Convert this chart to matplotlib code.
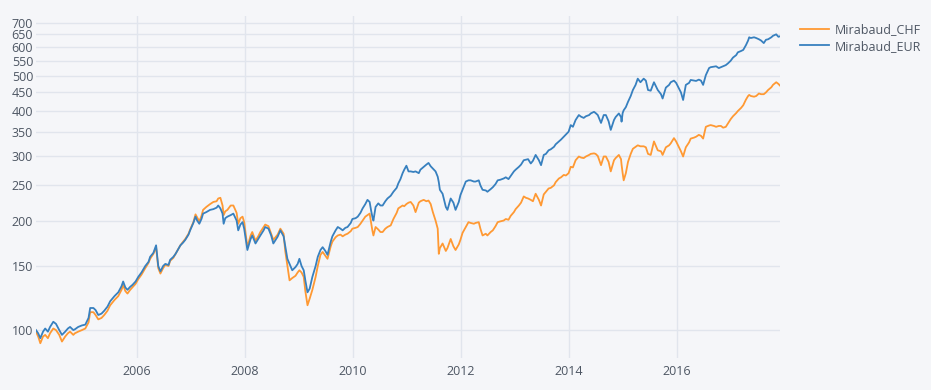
import matplotlib
matplotlib.use("Agg")
from matplotlib import pyplot as plt
from matplotlib.ticker import FixedLocator, FixedFormatter, NullLocator
import matplotlib.dates as mdates
import pandas as pd

# values (decimal year, index level)
years = [
    2004.14, 2004.18, 2004.22, 2004.27, 2004.31, 2004.36, 2004.40, 2004.46, 2004.51, 2004.57,
    2004.62, 2004.68, 2004.73, 2004.77, 2004.83, 2004.86, 2004.92, 2004.99, 2005.05, 2005.11,
    2005.14, 2005.20, 2005.24, 2005.29, 2005.35, 2005.40, 2005.46, 2005.51, 2005.59, 2005.66,
    2005.72, 2005.75, 2005.79, 2005.83, 2005.88, 2005.92, 2005.98, 2006.03, 2006.09, 2006.16,
    2006.22, 2006.25, 2006.31, 2006.36, 2006.40, 2006.44, 2006.49, 2006.53, 2006.59, 2006.62,
    2006.68, 2006.72, 2006.77, 2006.81, 2006.86, 2006.90, 2006.96, 2006.99, 2007.05, 2007.09,
    2007.12, 2007.16, 2007.20, 2007.23, 2007.29, 2007.36, 2007.42, 2007.48, 2007.51, 2007.55,
    2007.59, 2007.61, 2007.64, 2007.68, 2007.74, 2007.79, 2007.85, 2007.88, 2007.92, 2007.96,
    2007.99, 2008.05, 2008.11, 2008.14, 2008.20, 2008.25, 2008.29, 2008.35, 2008.38, 2008.44,
    2008.49, 2008.53, 2008.61, 2008.66, 2008.72, 2008.75, 2008.79, 2008.83, 2008.88, 2008.94,
    2008.98, 2009.01, 2009.05, 2009.09, 2009.12, 2009.16, 2009.20, 2009.25, 2009.31, 2009.35,
    2009.40, 2009.44, 2009.49, 2009.53, 2009.59, 2009.62, 2009.68, 2009.72, 2009.77, 2009.81,
    2009.86, 2009.90, 2009.96, 2009.99, 2010.05, 2010.09, 2010.14, 2010.18, 2010.23, 2010.27,
    2010.31, 2010.34, 2010.36, 2010.38, 2010.42, 2010.47, 2010.51, 2010.55, 2010.60, 2010.64,
    2010.70, 2010.75, 2010.81, 2010.84, 2010.88, 2010.92, 2010.95, 2010.99, 2011.03, 2011.07,
    2011.12, 2011.16, 2011.22, 2011.25, 2011.31, 2011.36, 2011.40, 2011.44, 2011.48, 2011.53,
    2011.57, 2011.59, 2011.61, 2011.66, 2011.72, 2011.75, 2011.81, 2011.86, 2011.90, 2011.96,
    2011.99, 2012.03, 2012.09, 2012.14, 2012.18, 2012.24, 2012.27, 2012.33, 2012.36, 2012.40,
    2012.46, 2012.49, 2012.55, 2012.59, 2012.64, 2012.68, 2012.73, 2012.79, 2012.83, 2012.88,
    2012.92, 2012.98, 2013.01, 2013.07, 2013.11, 2013.16, 2013.20, 2013.24, 2013.29, 2013.33,
    2013.38, 2013.44, 2013.48, 2013.53, 2013.57, 2013.62, 2013.66, 2013.72, 2013.75, 2013.81,
    2013.85, 2013.90, 2013.94, 2013.99, 2014.03, 2014.07, 2014.12, 2014.18, 2014.22, 2014.27,
    2014.31, 2014.37, 2014.40, 2014.46, 2014.49, 2014.53, 2014.59, 2014.64, 2014.68, 2014.73,
    2014.77, 2014.83, 2014.86, 2014.92, 2014.96, 2014.97, 2014.99, 2015.01, 2015.05, 2015.09,
    2015.14, 2015.18, 2015.23, 2015.27, 2015.32, 2015.38, 2015.42, 2015.46, 2015.51, 2015.57,
    2015.60, 2015.64, 2015.70, 2015.73, 2015.79, 2015.85, 2015.88, 2015.94, 2015.98, 2016.03,
    2016.07, 2016.11, 2016.16, 2016.22, 2016.25, 2016.31, 2016.35, 2016.40, 2016.44, 2016.48,
    2016.53, 2016.59, 2016.62, 2016.68, 2016.72, 2016.77, 2016.81, 2016.85, 2016.90, 2016.94,
    2016.99, 2017.03, 2017.09, 2017.12, 2017.18, 2017.22, 2017.27, 2017.31, 2017.33, 2017.36,
    2017.42, 2017.46, 2017.51, 2017.55, 2017.60, 2017.64, 2017.68, 2017.74, 2017.77, 2017.83,
    2017.87, 2017.90,
]

mirabaud_eur = [
    100, 98, 95, 99, 101, 99, 102, 105.4, 104, 100,
    97, 99, 101, 102, 100, 100.5, 102, 103, 103.5, 108,
    115, 115, 113.5, 110, 111, 113, 116, 120, 124, 127,
    132, 136, 131, 129, 131.5, 133, 136, 140, 144, 150,
    154, 159, 163, 171, 150, 145, 150, 152, 151, 156,
    159, 162, 167, 171, 174, 177, 183, 188, 197, 205,
    200, 196, 202, 209, 211, 214, 215, 217, 220, 216,
    209, 196, 203, 205, 207, 209, 200, 188, 195, 198,
    190, 166, 178, 182, 173, 178, 182, 188, 192, 190,
    182, 173, 180.6, 188, 181, 170, 157, 152, 146, 149,
    152, 157, 150, 146, 137, 127, 130, 140, 150, 159,
    166, 169, 165, 161, 175, 181, 188, 192, 190, 188,
    191, 192, 197, 202, 203, 205, 210, 216, 222, 228,
    225, 212, 205, 200, 218, 223, 220, 220, 226, 230,
    234, 240, 246, 253, 260, 270, 276, 283, 273, 273,
    272, 273, 270, 276, 281, 285, 288, 282, 278, 273,
    264, 255, 243, 237, 218, 214, 230, 224, 214, 225,
    235, 243, 256, 258, 258, 256, 256, 258, 250, 243,
    242, 240, 244, 247, 252, 258, 259, 261, 263, 260,
    265, 273, 276, 281, 285, 293, 294, 295, 287, 292,
    303, 293, 284, 303, 305, 312, 314, 319, 324, 330,
    334, 340, 345, 351, 366, 362, 378, 390, 386, 383,
    387, 390, 394, 398, 395, 390, 371, 390, 390, 375,
    355, 378, 385, 394, 385, 374, 395, 402, 410, 424,
    440, 457, 472, 491, 480, 491, 485, 457, 455, 480,
    470, 457, 445, 433, 464, 472, 480, 485, 478, 462,
    450, 429, 472, 478, 487, 485, 484, 488, 485, 472,
    502, 525, 528, 530, 531, 525, 528, 531, 535, 541,
    550, 561, 570, 580, 585, 589, 607, 625, 638, 635,
    638, 635, 630, 625, 615, 628, 630, 638, 644, 650,
    640, 642,
]

mirabaud_chf = [
    99, 96, 92, 96, 97, 95, 98, 101, 100, 97,
    93, 96, 98, 99, 97, 98, 99, 100, 101, 105,
    112, 112, 110, 107, 108, 110, 113, 117, 121, 124,
    129, 133, 128, 126, 129, 131, 134, 138, 142, 148,
    153, 157, 162, 169, 148, 143, 148, 151, 150, 155,
    158, 162, 167, 171, 175, 178, 184, 189, 198, 208,
    204, 199, 206, 214, 218, 222, 225, 226, 230, 231,
    220, 207, 212, 214, 220, 220, 210, 196, 203, 205,
    198, 169, 182, 186, 176, 181, 186, 192, 195, 193,
    184, 177, 183, 190, 184, 165, 150, 137, 139, 141,
    144, 146, 144, 140, 128, 117, 122, 129, 140, 150,
    161, 164, 160, 157, 170, 175, 180, 182, 183, 181,
    183, 184, 187, 190, 191, 192, 196, 200, 205, 207,
    209, 196, 188, 182, 192, 189, 186, 186, 190, 192,
    194, 202, 210, 216, 218, 220, 219, 222, 224, 225,
    220, 211, 224, 226, 228, 226, 227, 222, 211, 200,
    190, 162, 168, 173, 165, 168, 178, 170, 166, 172,
    177, 185, 192, 198, 197, 196, 197, 198, 190, 182,
    184, 182, 186, 188, 193, 198, 199, 200, 202, 201,
    206, 211, 215, 220, 224, 233, 231, 230, 228, 226,
    237, 228, 220, 236, 240, 245, 246, 250, 255, 261,
    263, 267, 266, 270, 281, 280, 293, 300, 298, 297,
    300, 303, 305, 306, 305, 301, 284, 300, 300, 290,
    273, 293, 297, 303, 295, 285, 270, 258, 270, 290,
    305, 315, 319, 322, 320, 320, 318, 305, 303, 330,
    322, 312, 310, 303, 318, 322, 326, 337, 330, 319,
    310, 300, 318, 328, 336, 338, 340, 344, 342, 336,
    362, 365, 366, 364, 362, 364, 364, 360, 362, 370,
    380, 387, 395, 400, 408, 415, 430, 440, 443, 440,
    438, 440, 447, 445, 445, 450, 457, 465, 472, 480,
    475, 470,
]

y_ticks = [100, 150, 200, 250, 300, 350, 400, 450, 500, 550, 600, 650, 700]


def to_date(y):
    start = pd.Timestamp(year=int(y), month=1, day=1)
    return start + pd.Timedelta(days=(y - int(y)) * 365.25)


dates = [to_date(y) for y in years]

bg = "#F5F6F9"
grid_c = "#E1E5ED"
text_c = "#4D5663"

plt.rcParams["font.family"] = ["Open Sans", "DejaVu Sans"]

fig = plt.figure(figsize=(9.31, 3.9), dpi=100, facecolor=bg)
ax = fig.add_axes([36 / 931, 32 / 390, 744 / 931, 342 / 390])
ax.set_facecolor(bg)

ax.plot(dates, mirabaud_chf, color="#FF9933", lw=1.3, label="Mirabaud_CHF")
ax.plot(dates, mirabaud_eur, color="#3780BF", lw=1.3, label="Mirabaud_EUR")

ax.set_yscale("log")
ax.set_ylim(83.8, 730)
ax.yaxis.set_major_locator(FixedLocator(y_ticks))
ax.yaxis.set_major_formatter(FixedFormatter([str(v) for v in y_ticks]))
ax.yaxis.set_minor_locator(NullLocator())

ax.set_xlim(dates[0], dates[-1])
ax.xaxis.set_major_locator(mdates.YearLocator(2, month=1, day=1))
ax.xaxis.set_major_formatter(mdates.DateFormatter("%Y"))

ax.grid(True, color=grid_c, lw=1)
ax.set_axisbelow(True)
for s in ax.spines.values():
    s.set_visible(False)
ax.tick_params(length=0, labelsize=9, colors=text_c)
ax.tick_params(axis="y", pad=2)
ax.tick_params(axis="x", pad=5)

leg = fig.legend(loc="upper left", bbox_to_anchor=(800 / 931, 1 - 23 / 390),
                 frameon=False, fontsize=9, handlelength=2.35, handletextpad=0.45,
                 labelspacing=0.3, borderpad=0, borderaxespad=0)
for t in leg.get_texts():
    t.set_color(text_c)

fig.savefig("out.png", dpi=100, facecolor=bg)
